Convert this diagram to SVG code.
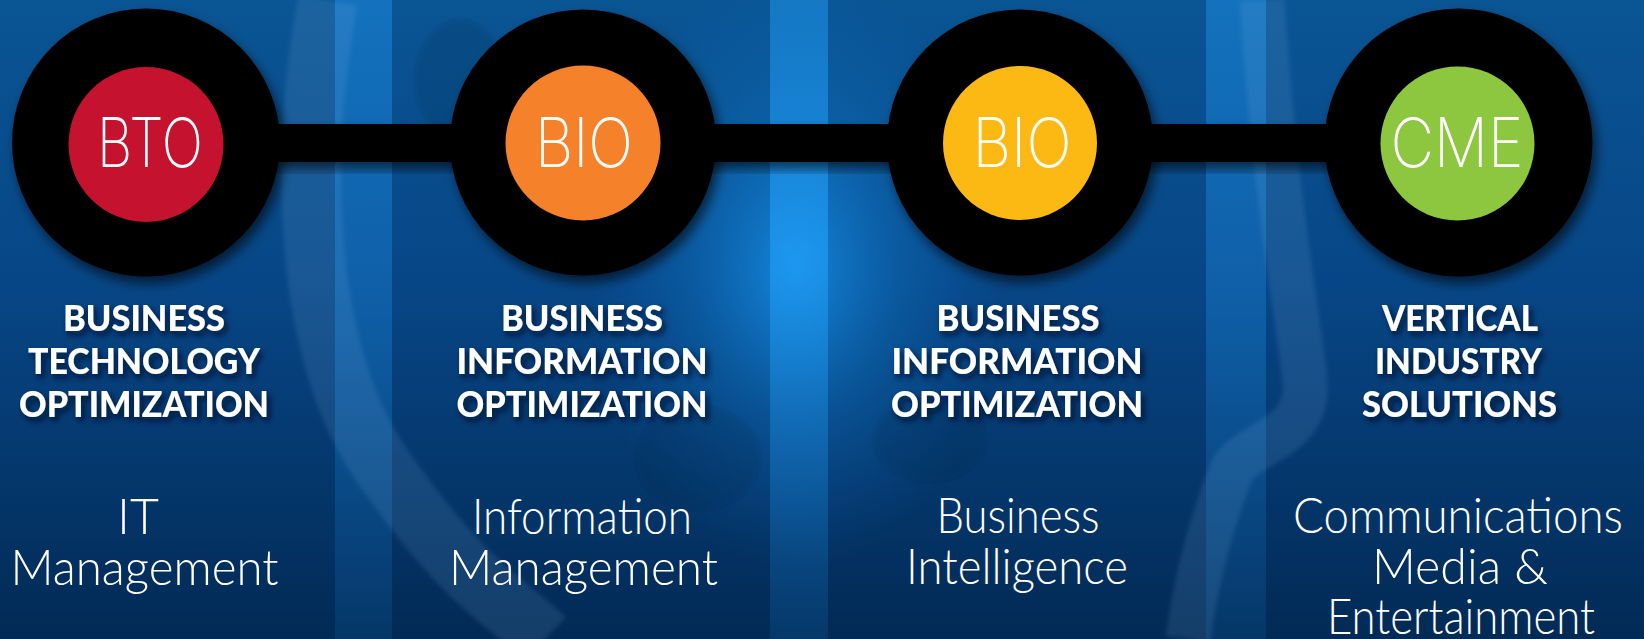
<svg xmlns="http://www.w3.org/2000/svg" width="1644" height="639" viewBox="0 0 1644 639">
  <defs>
    <linearGradient id="bg" x1="0" y1="0" x2="0" y2="1">
      <stop offset="0" stop-color="#0a5594"/>
      <stop offset="0.45" stop-color="#074686"/>
      <stop offset="1" stop-color="#022a55"/>
    </linearGradient>
    <radialGradient id="glow" cx="795" cy="270" r="260" gradientUnits="userSpaceOnUse" gradientTransform="translate(795 270) scale(0.8 1.15) translate(-795 -270)">
      <stop offset="0" stop-color="#1aa2ff" stop-opacity="0.7"/>
      <stop offset="0.5" stop-color="#1288e0" stop-opacity="0.28"/>
      <stop offset="1" stop-color="#0a70c8" stop-opacity="0"/>
    </radialGradient>
    <linearGradient id="stripe" x1="0" y1="0" x2="0" y2="1">
      <stop offset="0" stop-color="#1c8ee6" stop-opacity="0.5"/>
      <stop offset="0.5" stop-color="#1a86dc" stop-opacity="0.38"/>
      <stop offset="1" stop-color="#1478c8" stop-opacity="0.16"/>
    </linearGradient>
    <linearGradient id="stripeMid" x1="0" y1="0" x2="0" y2="1">
      <stop offset="0" stop-color="#1f9af0" stop-opacity="0.5"/>
      <stop offset="0.4" stop-color="#22a4ff" stop-opacity="0.6"/>
      <stop offset="1" stop-color="#1478c8" stop-opacity="0.18"/>
    </linearGradient>
    <filter id="circShadow" x="-20%" y="-20%" width="150%" height="150%">
      <feDropShadow dx="4" dy="7" stdDeviation="6" flood-color="#000" flood-opacity="0.6"/>
    </filter>
    <filter id="txtShadow" x="-10%" y="-30%" width="130%" height="170%">
      <feDropShadow dx="3" dy="4" stdDeviation="3" flood-color="#001025" flood-opacity="0.85"/>
    </filter>
    <filter id="soft" x="-20%" y="-20%" width="140%" height="140%">
      <feGaussianBlur stdDeviation="2"/>
    </filter>
  </defs>
  <style>
    .ring { fill: #000; }
    .lbl { fill: #fff; font-family: Inter, Lato, "Open Sans", sans-serif; font-weight: 200; font-size: 68px; text-anchor: middle; }
    .head { fill: #fff; font-family: Lato, "Liberation Sans", sans-serif; font-weight: 900; font-size: 36px; text-anchor: middle; }
    .sub { fill: #fff; font-family: Lato, "Open Sans", sans-serif; font-weight: 300; font-size: 50px; text-anchor: middle; }
    .bar { fill: #000; }
  </style>

  <!-- background -->
  <rect x="0" y="0" width="1644" height="639" fill="url(#bg)"/>
  <rect x="0" y="0" width="1644" height="639" fill="url(#glow)"/>
  <rect x="335" y="0" width="57" height="639" fill="url(#stripe)"/>
  <rect x="770" y="0" width="58" height="639" fill="url(#stripeMid)"/>
  <rect x="1206" y="0" width="60" height="639" fill="url(#stripe)"/>
  <g fill="none" stroke="#8cc4f0" stroke-opacity="0.13" filter="url(#soft)">
    <path d="M 328 0 C 300 150, 300 350, 385 470 S 505 600, 545 639" stroke-width="60"/>
    <path d="M 1262 0 C 1275 200, 1300 330, 1305 380 C 1310 440, 1250 440, 1232 470 C 1212 520, 1196 580, 1188 639" stroke-width="45"/>
  </g>
  <g fill="#021f44" fill-opacity="0.18" filter="url(#soft)">
    <ellipse cx="698" cy="458" rx="62" ry="52"/>
    <ellipse cx="930" cy="440" rx="56" ry="42"/>
    <ellipse cx="460" cy="80" rx="45" ry="60"/>
  </g>

  <!-- connectors -->
  <g id="connectors" filter="url(#circShadow)">
    <rect class="bar" x="270" y="124" width="200" height="38"/>
    <rect class="bar" x="705" y="124" width="200" height="38"/>
    <rect class="bar" x="1140" y="124" width="200" height="38"/>
  </g>

  <!-- nodes -->
  <g id="node-bto">
    <circle class="ring" cx="146" cy="142.5" r="134" filter="url(#circShadow)"/>
    <circle cx="146" cy="144.5" r="77.5" fill="#c4122f"/>
    <text class="lbl" x="150" y="167" textLength="106" lengthAdjust="spacingAndGlyphs">BTO</text>
    <g filter="url(#txtShadow)">
      <text class="head" x="144" y="331" textLength="162" lengthAdjust="spacingAndGlyphs">BUSINESS</text>
      <text class="head" x="144" y="374" textLength="232" lengthAdjust="spacingAndGlyphs">TECHNOLOGY</text>
      <text class="head" x="144" y="417" textLength="250" lengthAdjust="spacingAndGlyphs">OPTIMIZATION</text>
    </g>
    <text class="sub" x="138" y="534">IT</text>
    <text class="sub" x="144.5" y="585" textLength="268" lengthAdjust="spacingAndGlyphs">Management</text>
  </g>

  <g id="node-bio-1">
    <circle class="ring" cx="583" cy="142.5" r="133" filter="url(#circShadow)"/>
    <circle cx="583" cy="143" r="77.5" fill="#f5822a"/>
    <text class="lbl" x="584" y="167" textLength="98" lengthAdjust="spacingAndGlyphs">BIO</text>
    <g filter="url(#txtShadow)">
      <text class="head" x="582" y="331" textLength="162" lengthAdjust="spacingAndGlyphs">BUSINESS</text>
      <text class="head" x="582" y="374" textLength="251" lengthAdjust="spacingAndGlyphs">INFORMATION</text>
      <text class="head" x="582" y="417" textLength="251" lengthAdjust="spacingAndGlyphs">OPTIMIZATION</text>
    </g>
    <text class="sub" x="582" y="534" textLength="220" lengthAdjust="spacingAndGlyphs">Information</text>
    <text class="sub" x="583.5" y="585" textLength="269" lengthAdjust="spacingAndGlyphs">Management</text>
  </g>

  <g id="node-bio-2">
    <circle class="ring" cx="1020" cy="142.5" r="133" filter="url(#circShadow)"/>
    <circle cx="1020" cy="143" r="77" fill="#fdb913"/>
    <text class="lbl" x="1022" y="167" textLength="99" lengthAdjust="spacingAndGlyphs">BIO</text>
    <g filter="url(#txtShadow)">
      <text class="head" x="1018" y="331" textLength="163" lengthAdjust="spacingAndGlyphs">BUSINESS</text>
      <text class="head" x="1017" y="374" textLength="251" lengthAdjust="spacingAndGlyphs">INFORMATION</text>
      <text class="head" x="1017" y="417" textLength="252" lengthAdjust="spacingAndGlyphs">OPTIMIZATION</text>
    </g>
    <text class="sub" x="1018" y="533" textLength="163" lengthAdjust="spacingAndGlyphs">Business</text>
    <text class="sub" x="1017" y="584" textLength="222" lengthAdjust="spacingAndGlyphs">Intelligence</text>
  </g>

  <g id="node-cme">
    <circle class="ring" cx="1458.5" cy="142.5" r="134" filter="url(#circShadow)"/>
    <circle cx="1457.5" cy="143.5" r="77" fill="#8dc63f"/>
    <text class="lbl" x="1457" y="167" textLength="133" lengthAdjust="spacingAndGlyphs">CME</text>
    <g filter="url(#txtShadow)">
      <text class="head" x="1460" y="331" textLength="156" lengthAdjust="spacingAndGlyphs">VERTICAL</text>
      <text class="head" x="1458.5" y="374" textLength="167" lengthAdjust="spacingAndGlyphs">INDUSTRY</text>
      <text class="head" x="1459.5" y="417" textLength="195" lengthAdjust="spacingAndGlyphs">SOLUTIONS</text>
    </g>
    <text class="sub" x="1458" y="533" textLength="330" lengthAdjust="spacingAndGlyphs">Communications</text>
    <text class="sub" x="1460" y="584" textLength="176" lengthAdjust="spacingAndGlyphs">Media &amp;</text>
    <text class="sub" x="1461" y="634" textLength="268" lengthAdjust="spacingAndGlyphs">Entertainment</text>
  </g>
</svg>
